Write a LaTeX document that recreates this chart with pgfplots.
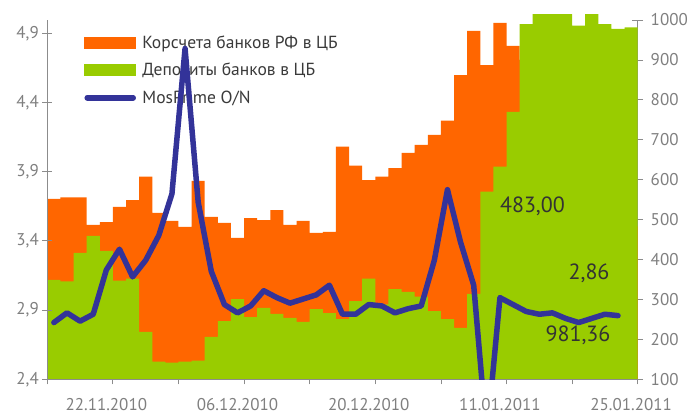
\documentclass[border=0pt]{standalone}
\usepackage{fontspec}
\setmainfont{PT Sans}
\usepackage{pgfplots}
\usepackage{pgfplotstable}
\pgfplotsset{compat=1.18}
\definecolor{korsch}{HTML}{FF6600}
\definecolor{depo}{HTML}{99CC00}
\definecolor{mpblue}{HTML}{333399}
\definecolor{axgray}{HTML}{8C8C8C}
\definecolor{ticktext}{HTML}{7F7F7F}
\definecolor{legtext}{HTML}{3A3A3A}
\definecolor{anntext}{HTML}{333333}

\pgfplotstableread{
x kor dep
0.5 552 349
1.5 556 345
2.5 556 417
3.5 487 459
4.5 494 422
5.5 532 347
6.5 549 352
7.5 608 219
8.5 517 144
9.5 497 142
10.5 482 144
11.5 597 147
12.5 507 206
13.5 492 246
14.5 454 301
15.5 504 256
16.5 499 279
17.5 524 264
18.5 487 254
19.5 497 244
20.5 467 276
21.5 469 266
22.5 683 251
23.5 635 296
24.5 599 352
25.5 608 288
26.5 629 326
27.5 667 319
28.5 687 307
29.5 712 271
30.5 748 251
31.5 862 229
32.5 973 314
33.5 887 570
34.5 993 633
35.5 935 770
36.5 900 990
37.5 850 1025
38.5 800 1025
39.5 700 1025
40.5 600 986
41.5 550 1025
42.5 520 990
43.5 500 978
44.5 483 981.36
}\bars

\pgfplotstableread{
x mp
0.5 2.81
1.5 2.88
2.5 2.82
3.5 2.87
4.5 3.19
5.5 3.34
6.5 3.14
7.5 3.26
8.5 3.44
9.5 3.74
10.5 4.79
11.5 3.68
12.5 3.18
13.5 2.94
14.5 2.88
15.5 2.93
16.5 3.04
17.5 2.99
18.5 2.95
19.5 2.98
20.5 3.01
21.5 3.08
22.5 2.87
23.5 2.87
24.5 2.94
25.5 2.93
26.5 2.88
27.5 2.91
28.5 2.93
29.5 3.26
30.5 3.77
31.5 3.39
32.5 3.08
33.5 1.98
34.5 2.99
35.5 2.94
36.5 2.89
37.5 2.87
38.5 2.88
39.5 2.84
40.5 2.81
41.5 2.84
42.5 2.87
43.5 2.86
}\mosprime

\begin{document}
\begin{tikzpicture}[font=\fontsize{17}{20}\selectfont]
% bars, right axis
\begin{axis}[
  at={(0,0)}, anchor=south west,
  scale only axis, width=590.4pt, height=364.3pt,
  xmin=0, xmax=45, ymin=100, ymax=1012.6,
  hide x axis,
  axis y line*=right,
  axis line style={draw=axgray, line width=0.8pt},
  y axis line style={shorten >=5pt},
  ytick={100,200,...,1000},
  tick align=center, major tick length=11pt,
  tick style={draw=axgray, line width=0.8pt},
  yticklabel style={text=ticktext, font=\fontsize{17}{20}\selectfont, xshift=4pt},
  /pgf/number format/.cd, fixed, 1000 sep={}, assume math mode=true,
  /pgfplots/.cd,
  legend style={at={(0.0622,0.950)}, anchor=north west, draw=none, fill=none,
    font=\fontsize{17.5}{20}\selectfont, text=legtext, row sep=9.5pt,
    inner sep=0pt, nodes={inner sep=2pt}},
  legend cell align=left,
]
\addplot[ybar, bar width=1, bar shift=0pt, fill=korsch, draw=none,
  legend image code/.code={\fill[korsch] (0pt,-6pt) rectangle (52pt,6pt); \path (56pt,0pt);}]
  table[x=x, y=kor] {\bars};
\addlegendentry{Корсчета банков РФ в ЦБ}
\addplot[ybar, bar width=1, bar shift=0pt, fill=depo, draw=none,
  legend image code/.code={\fill[depo] (0pt,-6pt) rectangle (52pt,6pt); \path (56pt,0pt);}]
  table[x=x, y=dep] {\bars};
\addlegendentry{Депозиты банков в ЦБ}
\addlegendimage{legend image code/.code={\draw[mpblue, line width=5.5pt, line cap=round] (3pt,0pt) -- (49pt,0pt); \path (56pt,0pt);}}
\addlegendentry{MosPrime O/N}
\node[text=anntext, font=\fontsize{22}{26}\selectfont] at (axis cs:36.98,534) {483,00};
\node[text=anntext, font=\fontsize{22}{26}\selectfont] at (axis cs:41.29,366) {2,86};
\node[text=anntext, font=\fontsize{22}{26}\selectfont] at (axis cs:40.45,211) {981,36};
\end{axis}
% x axis
\begin{axis}[
  at={(0,0)}, anchor=south west,
  scale only axis, width=590.4pt, height=364.3pt,
  xmin=0, xmax=45, ymin=0, ymax=1,
  hide y axis,
  axis x line*=bottom,
  axis line style={draw=axgray, line width=0.8pt},
  xtick={0,5,...,45}, xticklabels={},
  tick align=outside, major tick length=5pt,
  tick style={draw=axgray, line width=0.8pt},
  extra x ticks={4.5,14.5,24.5,34.5,44.5},
  extra x tick labels={22.11.2010,06.12.2010,20.12.2010,11.01.2011,25.01.2011},
  extra x tick style={major tick length=0pt, tick style={draw=none}},
  xticklabel style={text=ticktext, font=\fontsize{17}{20}\selectfont, yshift=-16pt},
]
\end{axis}
% MosPrime, left axis
\begin{axis}[
  at={(0,0)}, anchor=south west,
  scale only axis, width=590.4pt, height=364.3pt,
  xmin=0, xmax=45, ymin=2.4, ymax=5.032,
  hide x axis,
  axis y line*=left,
  axis line style={draw=axgray, line width=0.8pt},
  y axis line style={shorten >=5pt},
  ytick={2.4,2.9,3.4,3.9,4.4,4.9},
  tick align=center, major tick length=10pt,
  tick style={draw=axgray, line width=0.8pt},
  yticklabel style={text=ticktext, font=\fontsize{17}{20}\selectfont},
  /pgf/number format/.cd, fixed, fixed zerofill, precision=1, use comma, assume math mode=true,
  /pgfplots/.cd,
]
\addplot[mpblue, line width=5.5pt, line join=round, line cap=round] table[x=x, y=mp] {\mosprime};
\end{axis}
\pgfresetboundingbox
\path[use as bounding box] (-47.3pt,-35.7pt) rectangle (641.7pt,379.3pt);
\end{tikzpicture}
\end{document}
